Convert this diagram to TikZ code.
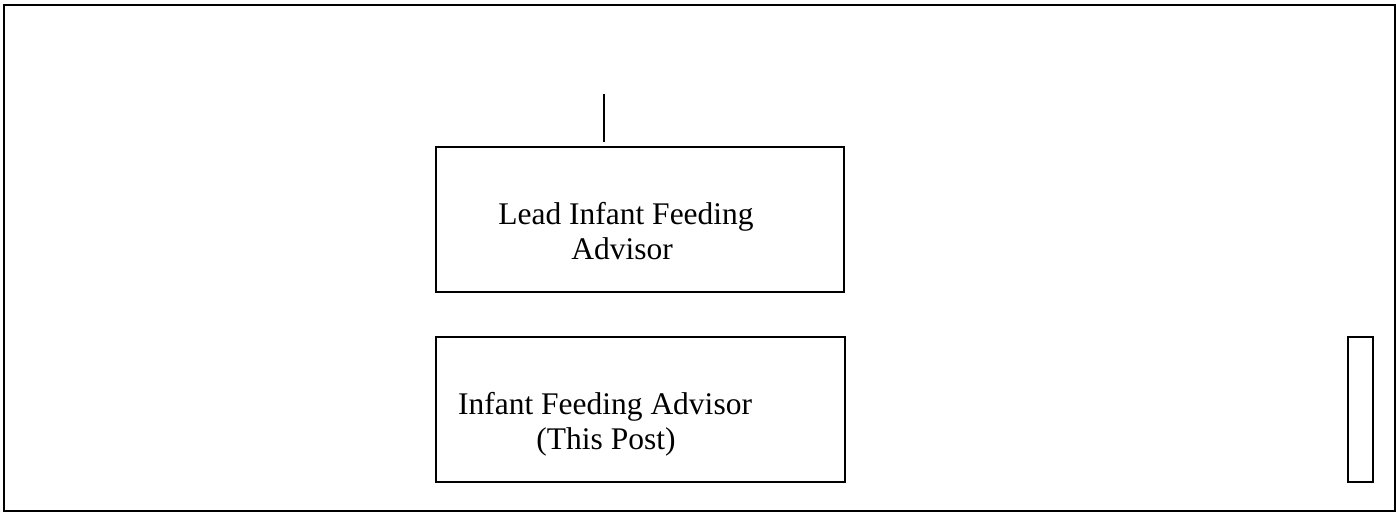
\documentclass[tikz,border=0pt]{standalone}
\usepackage{fontspec}
\setmainfont{Liberation Serif}
\begin{document}
\begin{tikzpicture}[x=1pt,y=-1pt,
  frame/.style={draw=black,line width=1.3pt},
  postbox/.style={draw=black,line width=1.3pt,inner sep=0pt},
  label/.style={anchor=base,inner sep=0pt,font=\fontsize{31.5}{35}\selectfont}]
\useasboundingbox (0,0) rectangle (1396,512);
\draw[frame] (4,5) rectangle (1395,511);
\node[postbox,minimum width=408pt,minimum height=145pt] (lead) at (640,219.5) {};
\node[postbox,minimum width=409pt,minimum height=145pt] (post) at (640.5,409.5) {};
\node[postbox,minimum width=25pt,minimum height=145pt] (side) at (1360.5,409.5) {};
\node[label] (leadA) at (626,224) {Lead Infant Feeding};
\node[label] (leadB) at (622,259) {Advisor};
\node[label] (postA) at (605,414) {Infant Feeding Advisor};
\node[label] (postB) at (606,449) {(This Post)};
\coordinate (ltop) at (604,94);
\coordinate (lbot) at (604,142);
\draw[line width=1.3pt] (ltop) -- (lbot);
\end{tikzpicture}
\end{document}
